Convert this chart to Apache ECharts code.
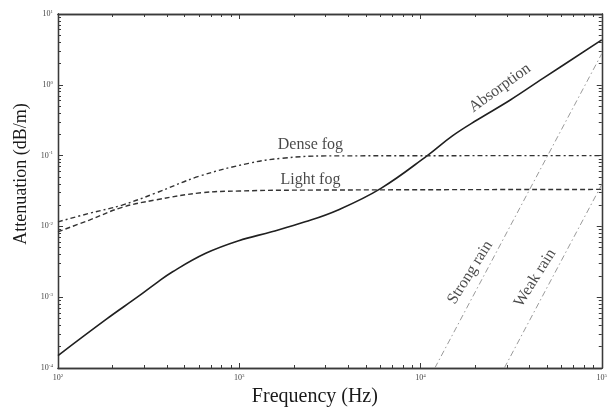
<!DOCTYPE html>
<html>
<head>
<meta charset="utf-8">
<script src="https://cdn.jsdelivr.net/npm/echarts@6/dist/echarts.min.js"></script>
<style>
  html, body { margin: 0; padding: 0; background: #fff; }
  #chart { width: 610px; height: 414px; }
</style>
</head>
<body>
<div id="chart"></div>
<script>
// absorption (solid)
const absFreq = [100, 185, 281, 347, 429, 653, 993, 1510, 2310, 3510, 6050, 10900, 15000, 20500, 31300, 47600, 100000];
const absAtt = [1.5e-4, 4.9e-4, 1.05e-3, 1.57e-3, 2.29e-3, 4.17e-3, 6.28e-3, 8.4e-3, 0.0116, 0.0171, 0.0345, 0.1, 0.19, 0.318, 0.61, 1.24, 4.3];

// fog curves
const denseFreq = [100, 149, 226, 344, 600, 1127, 1718, 3000, 100000];
const denseAtt = [0.0116, 0.0153, 0.02, 0.0294, 0.051, 0.0778, 0.0916, 0.099, 0.1];
const lightFreq = [100, 149, 226, 344, 621, 1000, 2000, 100000];
const lightAtt = [0.0084, 0.0123, 0.0186, 0.0236, 0.0299, 0.0316, 0.0325, 0.0333];

// rain lines (straight in log-log)
const strongFreq = [12000, 100000];
const strongAtt = [1e-4, 2.75];
const weakFreq = [29000, 100000];
const weakAtt = [1e-4, 0.039];

// in-plot labels
const labelText = ['Absorption', 'Dense fog', 'Light fog', 'Strong rain', 'Weak rain'];
const labelFreq = [27400, 2470, 2470, 18800, 42900];
const labelAtt = [0.9, 0.141, 0.0462, 2.23e-3, 1.87e-3];
const labelAngle = [36, 0, 0, 58, 58];

// ticks
const xMajor = [100, 1000, 10000, 100000];
const yMajor = [1e-4, 1e-3, 1e-2, 1e-1, 1, 10];
const minorMult = [2, 3, 4, 5, 6, 7, 8, 9];

function minors(majors) {
    const out = [];
    majors.slice(0, -1).forEach(m => minorMult.forEach(k => out.push(m * k)));
    return out;
}

const pairs = (xs, ys) => xs.map((x, i) => [x, ys[i]]);
const serif = 'Liberation Serif';
const axisColor = '#3a3a3a';

function supLabel(v) {
    const e = Math.round(Math.log10(v));
    return '{b|10}{e|' + e + '}';
}

const labelRich = {
    b: { fontFamily: serif, fontSize: 8, color: '#444' },
    e: { fontFamily: serif, fontSize: 5, color: '#444', verticalAlign: 'top', lineHeight: 10 }
};

function makeAxis(pos, min, max, ticks, len, withLabels) {
    return {
        type: 'log',
        logBase: 10,
        position: pos,
        min: min,
        max: max,
        axisLine: { show: true, onZero: false, lineStyle: { color: axisColor, width: 1.3 } },
        axisTick: { show: true, inside: true, length: len, customValues: ticks, lineStyle: { color: axisColor, width: 1 } },
        axisLabel: withLabels ? {
            show: true, customValues: ticks, formatter: supLabel, rich: labelRich, margin: 5
        } : { show: false },
        splitLine: { show: false },
        minorTick: { show: false }
    };
}

const xBottom = makeAxis('bottom', 100, 100000, xMajor, 5, true);
xBottom.name = 'Frequency (Hz)';
xBottom.nameLocation = 'middle';
xBottom.nameGap = 16;
xBottom.nameTextStyle = { fontFamily: serif, fontSize: 20, color: '#1a1a1a', padding: [0, 30, 0, 0] };

const yLeft = makeAxis('left', 1e-4, 10, yMajor, 5, true);
yLeft.name = 'Attenuation (dB/m)';
yLeft.nameLocation = 'middle';
yLeft.nameGap = 26;
yLeft.nameTextStyle = { fontFamily: serif, fontSize: 18, color: '#1a1a1a', padding: [0, 0, 0, 34] };

const chart = echarts.init(document.getElementById('chart'), null, { renderer: 'canvas' });

chart.setOption({
    backgroundColor: '#fff',
    animation: false,
    grid: { left: 58, right: 5, top: 14, bottom: 46, containLabel: false },
    xAxis: [
        xBottom,
        makeAxis('bottom', 100, 100000, minors(xMajor), 3, false),
        makeAxis('top', 100, 100000, xMajor, 5, false),
        makeAxis('top', 100, 100000, minors(xMajor), 3, false)
    ],
    yAxis: [
        yLeft,
        makeAxis('left', 1e-4, 10, minors(yMajor), 3, false),
        makeAxis('right', 1e-4, 10, yMajor, 5, false),
        makeAxis('right', 1e-4, 10, minors(yMajor), 3, false)
    ],
    series: [
        {
            name: 'Absorption', type: 'line', data: pairs(absFreq, absAtt),
            smooth: 0.4, showSymbol: false,
            lineStyle: { color: '#202020', width: 1.6 }
        },
        {
            name: 'Dense fog', type: 'line', data: pairs(denseFreq, denseAtt),
            smooth: 0.4, showSymbol: false,
            lineStyle: { color: '#333', width: 1.4, type: [5, 3, 2, 3] }
        },
        {
            name: 'Light fog', type: 'line', data: pairs(lightFreq, lightAtt),
            smooth: 0.4, showSymbol: false,
            lineStyle: { color: '#333', width: 1.4, type: [5, 3] }
        },
        {
            name: 'Strong rain', type: 'line', data: pairs(strongFreq, strongAtt),
            showSymbol: false,
            lineStyle: { color: '#9a9a9a', width: 1, type: [6, 3, 1.5, 3] }
        },
        {
            name: 'Weak rain', type: 'line', data: pairs(weakFreq, weakAtt),
            showSymbol: false,
            lineStyle: { color: '#9a9a9a', width: 1, type: [6, 3, 1.5, 3] }
        },
        {
            name: 'labels', type: 'scatter', symbolSize: 0, silent: true,
            data: labelText.map((t, i) => ({
                value: [labelFreq[i], labelAtt[i]],
                label: {
                    show: true, position: 'inside', formatter: t, rotate: labelAngle[i],
                    fontFamily: serif, fontSize: 16, color: '#1a1a1a'
                }
            }))
        }
    ]
});
</script>
</body>
</html>
